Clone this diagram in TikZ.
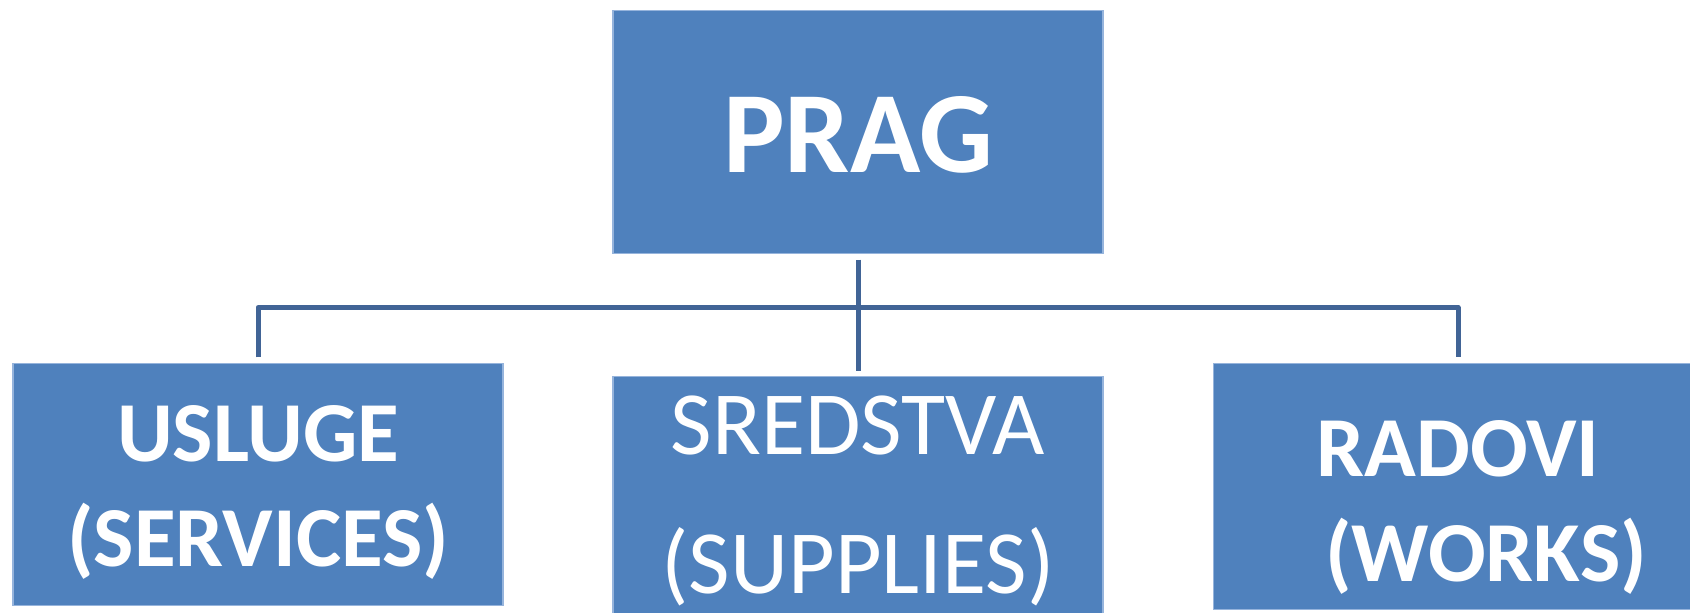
\documentclass[tikz,border=0pt]{standalone}
\usepackage{fontspec}
\setmainfont{Carlito}
\usepackage{tikz}
\usetikzlibrary{positioning}
\definecolor{boxblue}{RGB}{79,129,189}
\definecolor{boxedge}{RGB}{150,180,220}
\definecolor{linkblue}{RGB}{65,100,150}

\begin{document}
\begin{tikzpicture}[
    unit/.style={draw=boxedge, line width=0.3pt, fill=boxblue, text=white, inner sep=0pt, minimum width=4.9cm, anchor=north, align=center},
    head/.style={unit, font=\fontsize{33}{40}\selectfont\bfseries, text height=1.62cm, text depth=0.81cm},
    branch/.style={unit, font=\fontsize{24.3}{29.9}\selectfont\bfseries},
    link/.style={draw=linkblue, line width=0.05cm, line join=round, shorten <=0.055cm, shorten >=0.055cm}
]
\useasboundingbox (0,0) rectangle (16.9,6.12);

% Top of the tree
\node[head] (prag) at (8.58,6.02) {PRAG};

% Three branches
\node[branch, text height=2.03cm, text depth=0.39cm] (usluge) at (2.58,2.49) {USLUGE\\(SERVICES)};
\node[branch, font=\fontsize{25.7}{39.5}\selectfont, text height=2.17cm, text depth=0.25cm] (sredstva) at (8.58,2.36) {SREDSTVA\\(SUPPLIES)};
\node[branch, text height=2.18cm, text depth=0.28cm] (radovi) at (14.58,2.49) {RADOVI\\\hspace*{0.56cm}(WORKS)};

% Connectors
\coordinate (bus) at (8.58,3.045);
\draw[link] (prag) -- (sredstva);
\draw[link] (usluge.north) |- (bus) -| (radovi.north);
\end{tikzpicture}
\end{document}
